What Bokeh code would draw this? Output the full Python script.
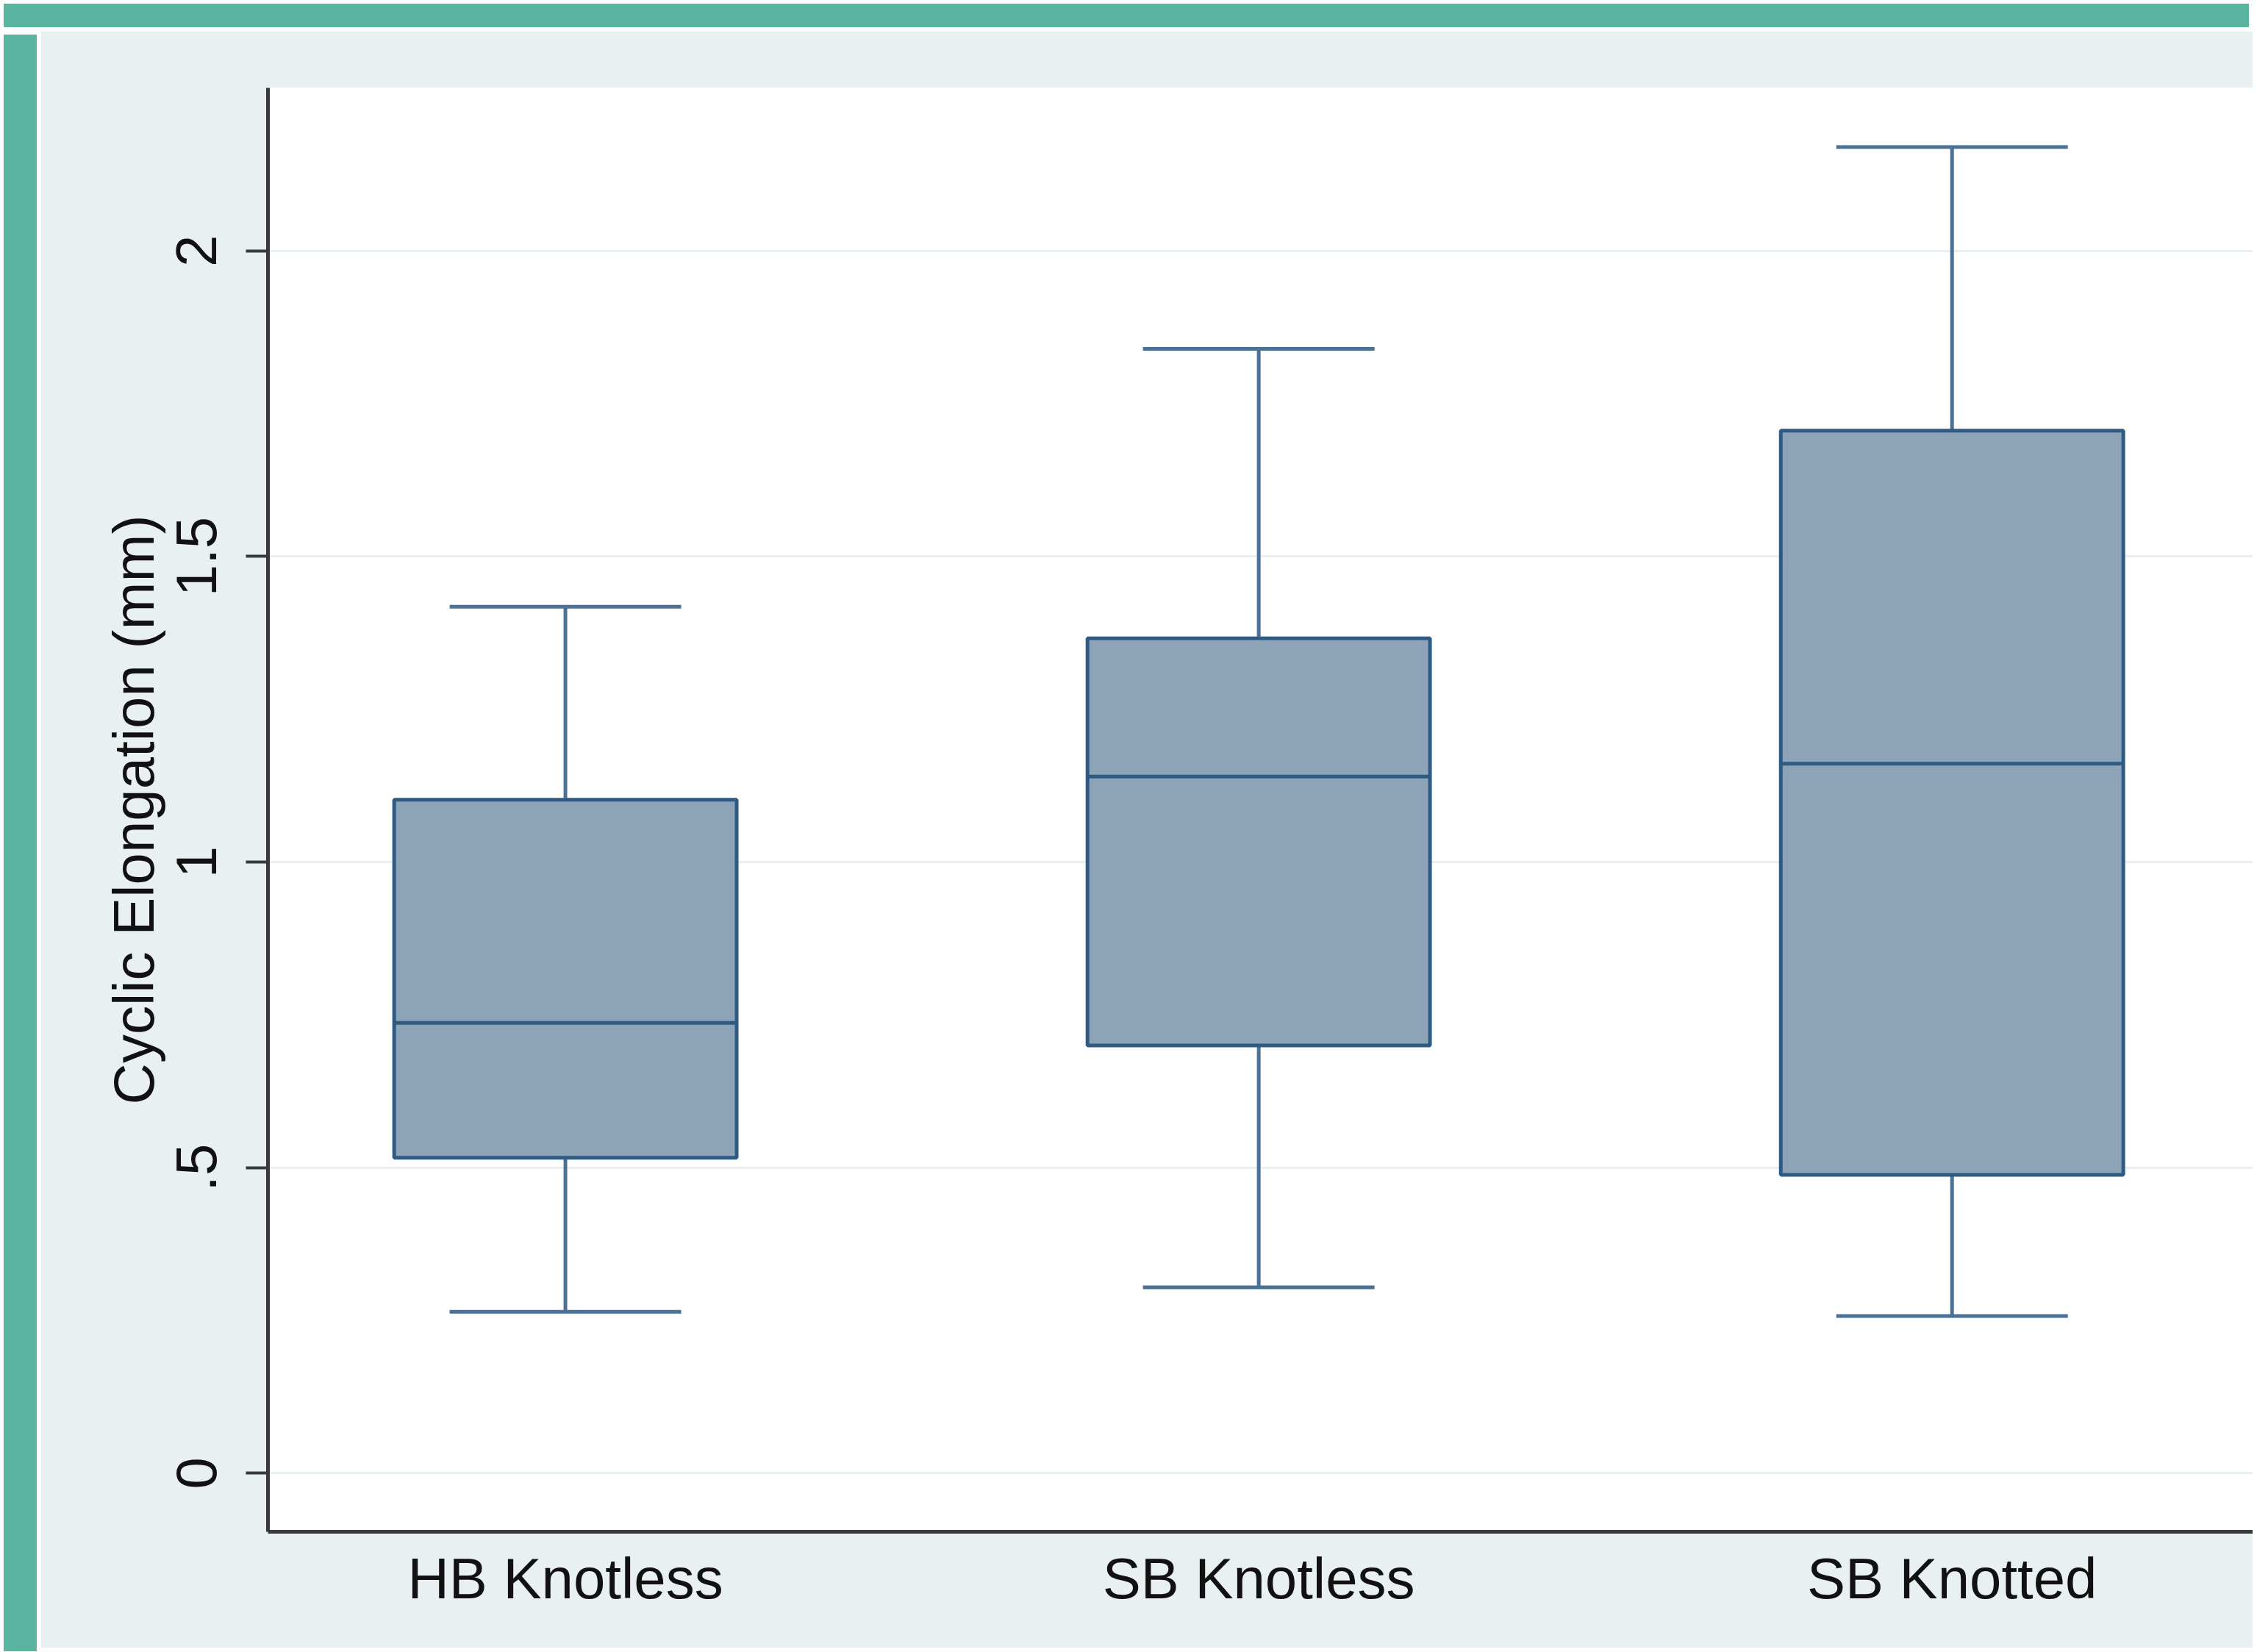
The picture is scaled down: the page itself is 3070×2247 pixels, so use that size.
from bokeh.plotting import figure
from bokeh.models import Range1d, FixedTicker, ColumnDataSource, Div
from bokeh.layouts import column, row
from bokeh.embed import file_html
from bokeh.resources import INLINE

# ---- data ----
groups = ["HB Knotless", "SB Knotless", "SB Knotted"]
lower_whisker = [0.264, 0.304, 0.257]
q1 = [0.516, 0.700, 0.488]
median = [0.737, 1.140, 1.161]
q3 = [1.102, 1.366, 1.706]
upper_whisker = [1.418, 1.840, 2.170]
y_ticks = [0, 0.5, 1, 1.5, 2]
y_tick_labels = ["0", ".5", "1", "1.5", "2"]

TEAL = "#5AB5A0"
BG = "#E8F0F2"
FILL = "#8DA3B7"
EDGE = "#2F5A82"
WHISK = "#4A7196"
FONT = "Liberation Sans"

xpos = list(range(len(groups)))
box_w = 0.494
cap_w = 0.334

src = ColumnDataSource(dict(
    x=xpos,
    left=[x - box_w / 2 for x in xpos],
    right=[x + box_w / 2 for x in xpos],
    capl=[x - cap_w / 2 for x in xpos],
    capr=[x + cap_w / 2 for x in xpos],
    lw=lower_whisker, q1=q1, med=median, q3=q3, uw=upper_whisker,
))

p = figure(width=3009, height=2199, output_backend="svg", toolbar_location=None,
           x_range=Range1d(-0.429, 2.434), y_range=Range1d(-0.096, 2.267),
           min_border_left=309, min_border_top=77, min_border_right=0, min_border_bottom=158)
p.background_fill_color = "white"
p.border_fill_color = BG
p.outline_line_color = None

# grid
p.xgrid.grid_line_color = None
p.ygrid.ticker = FixedTicker(ticks=y_ticks)
p.ygrid.grid_line_color = "#E6EFF1"
p.ygrid.grid_line_width = 3

# whiskers
p.segment(x0="x", y0="q3", x1="x", y1="uw", source=src, line_color=WHISK, line_width=5)
p.segment(x0="x", y0="lw", x1="x", y1="q1", source=src, line_color=WHISK, line_width=5)
p.segment(x0="capl", y0="uw", x1="capr", y1="uw", source=src, line_color=WHISK, line_width=5)
p.segment(x0="capl", y0="lw", x1="capr", y1="lw", source=src, line_color=WHISK, line_width=5)
# boxes
p.quad(left="left", right="right", bottom="q1", top="q3", source=src,
       fill_color=FILL, line_color=EDGE, line_width=5)
p.segment(x0="left", y0="med", x1="right", y1="med", source=src, line_color=EDGE, line_width=5)

# x axis
p.xaxis.ticker = FixedTicker(ticks=xpos)
p.xaxis.major_label_overrides = {x: g for x, g in zip(xpos, groups)}
p.xaxis.major_tick_line_color = None
p.xaxis.minor_tick_line_color = None
p.xaxis.major_tick_out = 0
p.xaxis.major_label_standoff = 19
p.xaxis.axis_line_color = "#3A3A3A"
p.xaxis.axis_line_width = 5
p.xaxis.major_label_text_font = FONT
p.xaxis.major_label_text_font_size = "78px"
p.xaxis.major_label_text_color = "#111111"

# y axis
p.yaxis.ticker = FixedTicker(ticks=y_ticks)
p.yaxis.major_label_overrides = {t: l for t, l in zip(y_ticks, y_tick_labels)}
p.yaxis.major_label_orientation = "parallel"
p.yaxis.minor_tick_line_color = None
p.yaxis.major_tick_out = 30
p.yaxis.major_tick_in = 0
p.yaxis.major_tick_line_width = 4
p.yaxis.major_tick_line_color = "#3A3A3A"
p.yaxis.axis_line_color = "#3A3A3A"
p.yaxis.axis_line_width = 5
p.yaxis.major_label_standoff = 40
p.yaxis.major_label_text_font = FONT
p.yaxis.major_label_text_font_size = "78px"
p.yaxis.major_label_text_color = "#111111"
p.yaxis.axis_label = "Cyclic Elongation (mm)"
p.yaxis.axis_label_text_font = FONT
p.yaxis.axis_label_text_font_size = "78px"
p.yaxis.axis_label_text_font_style = "normal"
p.yaxis.axis_label_text_color = "#111111"
p.yaxis.axis_label_standoff = 12

top_strip = Div(width=3054, height=32, styles={"background-color": TEAL})
left_strip = Div(width=45, height=2199, styles={"background-color": TEAL})
layout = column(top_strip, row(left_strip, p, spacing=0), spacing=0)

open("out.html", "w").write(file_html(layout, INLINE))
